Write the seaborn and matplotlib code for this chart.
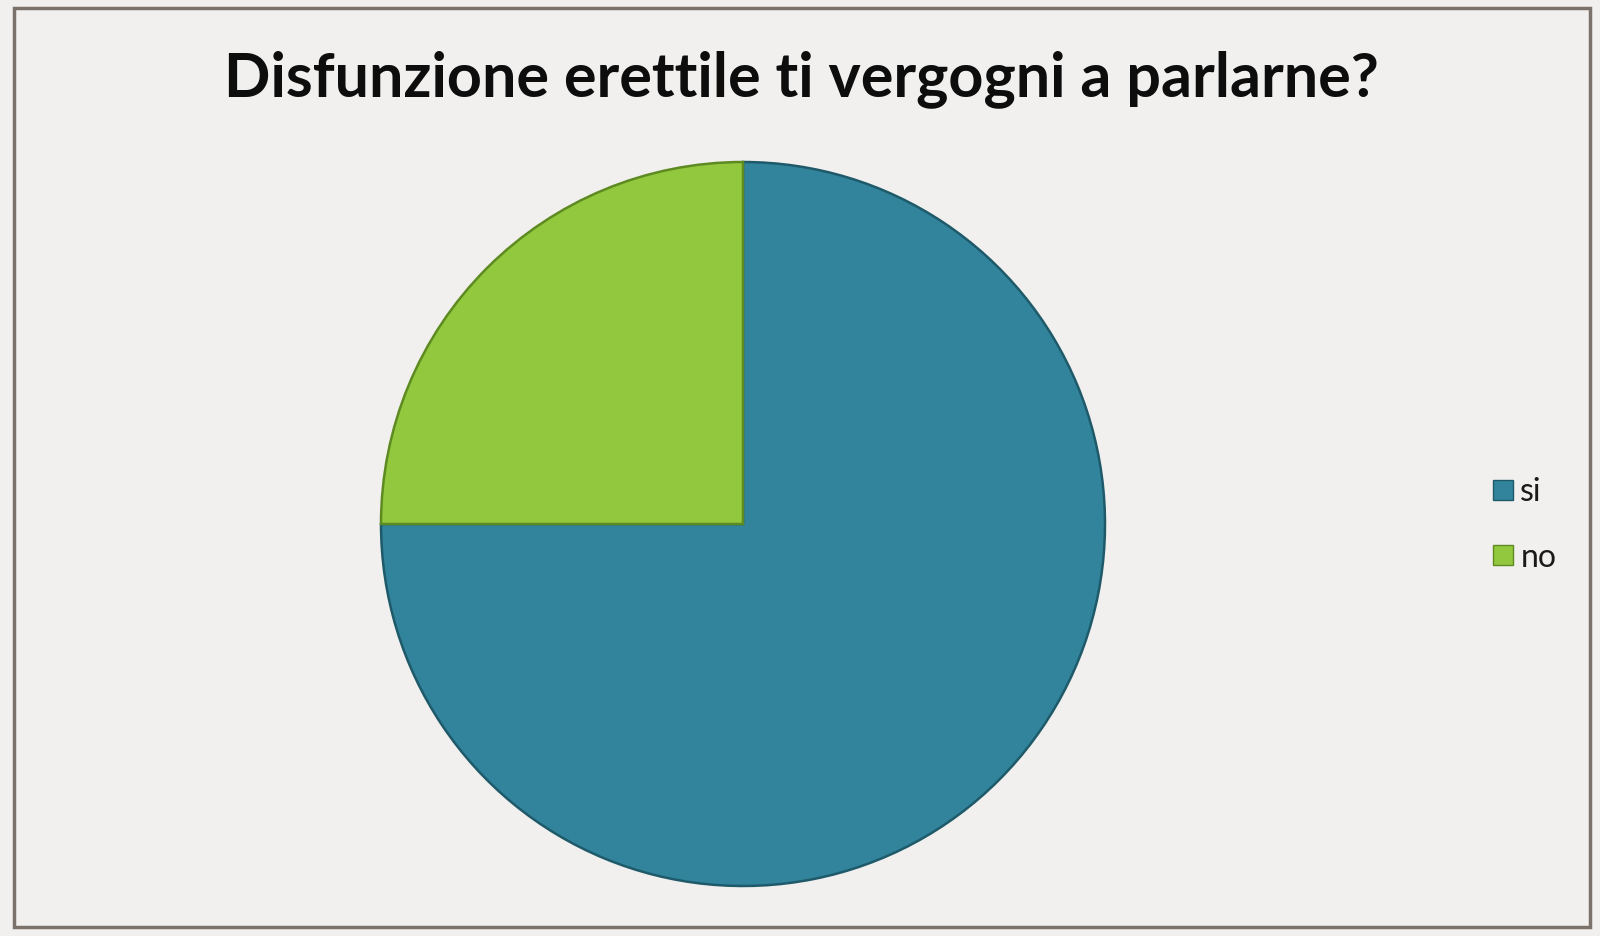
import matplotlib
matplotlib.use("Agg")
import matplotlib.pyplot as plt
import matplotlib.patches as mpatches
from matplotlib.lines import Line2D
import seaborn as sns

# data
labels = ["si", "no"]
values = [75, 25]
colors = ["#31849B", "#92C83E"]
edge_colors = ["#1F5A6A", "#5E8A22"]
title = "Disfunzione erettile ti vergogni a parlarne?"

sns.set_style("white")
plt.rcParams["font.family"] = ["Lato", "DejaVu Sans"]

W, H = 1600, 936
fig = plt.figure(figsize=(W / 100, H / 100), dpi=100)
fig.patch.set_facecolor("#F2F0EE")

ax = fig.add_axes([0, 0, 1, 1])
ax.set_aspect("equal")

wedges, _ = ax.pie(values, colors=colors, startangle=90, counterclock=False,
                   center=(743, H - 524), radius=362, frame=True,
                   wedgeprops=dict(linewidth=1.8))
for w, ec in zip(wedges, edge_colors):
    w.set_edgecolor(ec)
ax.set_xlim(0, W)
ax.set_ylim(0, H)
ax.axis("off")

fig.text(801 / W, 1 - 79 / H, title, ha="center", va="center",
         fontsize=44, fontweight="bold", color="#0D0D0D")

handles = [Line2D([0], [0], marker="s", linestyle="", markersize=15,
                  markerfacecolor=c, markeredgecolor=ec, markeredgewidth=1)
           for c, ec in zip(colors, edge_colors)]
fig.legend(handles, labels, loc="center left",
           bbox_to_anchor=(1458 / W, 1 - 525 / H), frameon=False,
           fontsize=23, labelspacing=1.1, handletextpad=0.05,
           handlelength=1.0, labelcolor="#1A1A1A")

border = mpatches.Rectangle((14 / W, 1 - 927 / H), 1576 / W, 919 / H,
                            transform=fig.transFigure, fill=False,
                            edgecolor="#7A726B", linewidth=2.5)
fig.patches.append(border)

fig.savefig("out.png", dpi=100, facecolor=fig.get_facecolor())
